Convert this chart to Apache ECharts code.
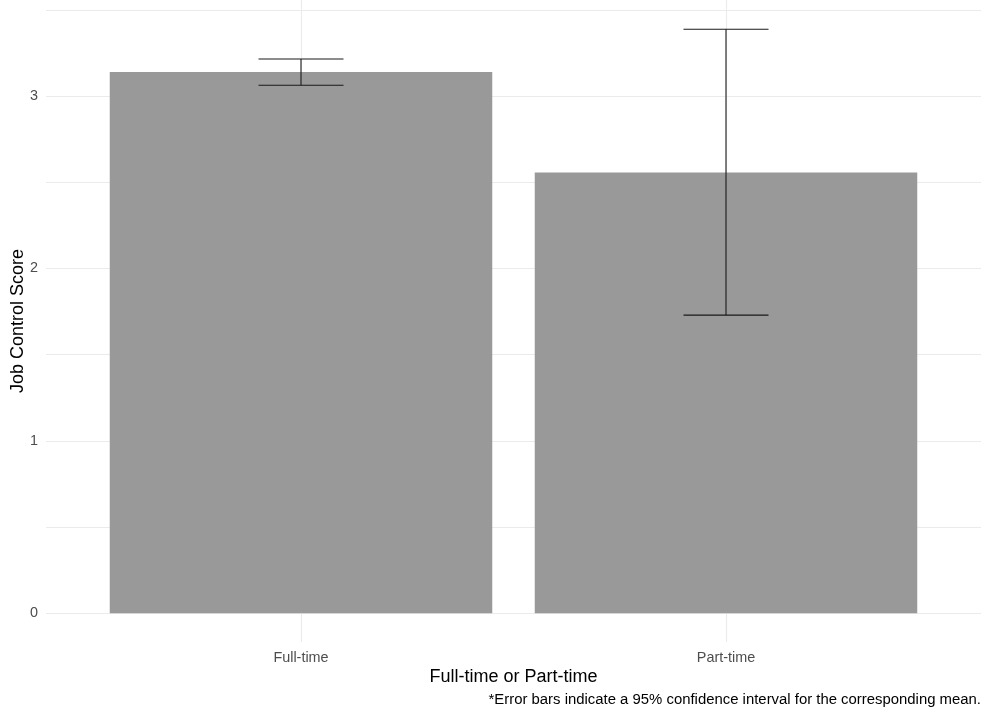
<!DOCTYPE html>
<html>
<head>
<meta charset="utf-8">
<script src="https://cdn.jsdelivr.net/npm/echarts@6/dist/echarts.min.js"></script>
<style>
html,body{margin:0;padding:0;background:#fff;}
#chart{width:990px;height:717px;}
</style>
</head>
<body>
<div id="chart"></div>
<script>
// ---- data ----
var categories = ['Full-time', 'Part-time'];
var means = [3.139, 2.556];
var lowerCI = [3.062, 1.729];
var upperCI = [3.215, 3.387];

var xTitle = 'Full-time or Part-time';
var yTitle = 'Job Control Score';
var caption = '*Error bars indicate a 95% confidence interval for the corresponding mean.';

var FONT = '"Liberation Sans", Arial, Helvetica, sans-serif';
var chart = echarts.init(document.getElementById('chart'), null, {renderer: 'canvas'});

var barData = categories.map(function (c, i) { return [i + 1, means[i]]; });
var errData = categories.map(function (c, i) { return [i + 1, lowerCI[i], upperCI[i]]; });

var option = {
  backgroundColor: '#ffffff',
  animation: false,
  grid: [
    {left: 301, right: 264, top: 0, bottom: 75, containLabel: false},
    {left: 46, right: 9, top: 9.8, bottom: 103.7, containLabel: false}
  ],
  xAxis: [
    {
      gridIndex: 0, type: 'category', data: categories, boundaryGap: false,
      axisLine: {show: false}, axisTick: {show: false},
      splitLine: {show: true, lineStyle: {color: '#ebebeb', width: 1.1}},
      axisLabel: {color: '#4d4d4d', fontSize: 14.4, fontFamily: FONT, margin: 9}
    },
    {
      gridIndex: 1, type: 'value', min: 0.4, max: 2.6, show: false,
      splitLine: {show: false}
    }
  ],
  yAxis: [
    {gridIndex: 0, type: 'value', min: 0, max: 1, show: false, splitLine: {show: false}},
    {
      gridIndex: 1, type: 'value', min: 0, max: 3.5, interval: 0.5,
      axisLine: {show: false}, axisTick: {show: false},
      splitLine: {show: true, lineStyle: {color: '#ebebeb', width: 1.1}},
      axisLabel: {
        color: '#4d4d4d', fontSize: 14.4, fontFamily: FONT, margin: 8,
        formatter: function (v) { return (Math.abs(v - Math.round(v)) < 1e-9) ? String(Math.round(v)) : ''; }
      }
    }
  ],
  series: [
    {
      type: 'custom', xAxisIndex: 1, yAxisIndex: 1, clip: false, z: 2,
      data: barData,
      encode: {x: 0, y: 1},
      renderItem: function (params, api) {
        var x = api.value(0), y = api.value(1);
        var p0 = api.coord([x - 0.45, 0]);
        var p1 = api.coord([x + 0.45, y]);
        return {
          type: 'rect',
          shape: {x: p0[0], y: p1[1], width: p1[0] - p0[0], height: p0[1] - p1[1]},
          style: {fill: '#999999'}
        };
      }
    },
    {
      type: 'custom', xAxisIndex: 1, yAxisIndex: 1, clip: false, z: 3,
      data: errData,
      encode: {x: 0, y: [1, 2]},
      renderItem: function (params, api) {
        var x = api.value(0), lo = api.value(1), hi = api.value(2);
        var a = api.coord([x, lo]), b = api.coord([x, hi]);
        var l = api.coord([x - 0.1, lo])[0], r = api.coord([x + 0.1, lo])[0];
        var st = {stroke: '#1a1a1a', lineWidth: 1.1};
        return {
          type: 'group',
          children: [
            {type: 'line', shape: {x1: a[0], y1: a[1], x2: b[0], y2: b[1]}, style: st},
            {type: 'line', shape: {x1: l, y1: a[1], x2: r, y2: a[1]}, style: st},
            {type: 'line', shape: {x1: l, y1: b[1], x2: r, y2: b[1]}, style: st}
          ]
        };
      }
    }
  ],
  graphic: [
    {
      type: 'text', x: 513.5, y: 668,
      style: {text: xTitle, fill: '#000000', fontSize: 18, fontFamily: FONT, textAlign: 'center', textVerticalAlign: 'top'}
    },
    {
      type: 'text', x: 9, y: 321, rotation: Math.PI / 2,
      style: {text: yTitle, fill: '#000000', fontSize: 18, fontFamily: FONT, textAlign: 'center', textVerticalAlign: 'top'}
    },
    {
      type: 'text', x: 981, y: 692,
      style: {text: caption, fill: '#000000', fontSize: 14.9, fontFamily: FONT, textAlign: 'right', textVerticalAlign: 'top'}
    }
  ]
};
chart.setOption(option);
</script>
</body>
</html>
